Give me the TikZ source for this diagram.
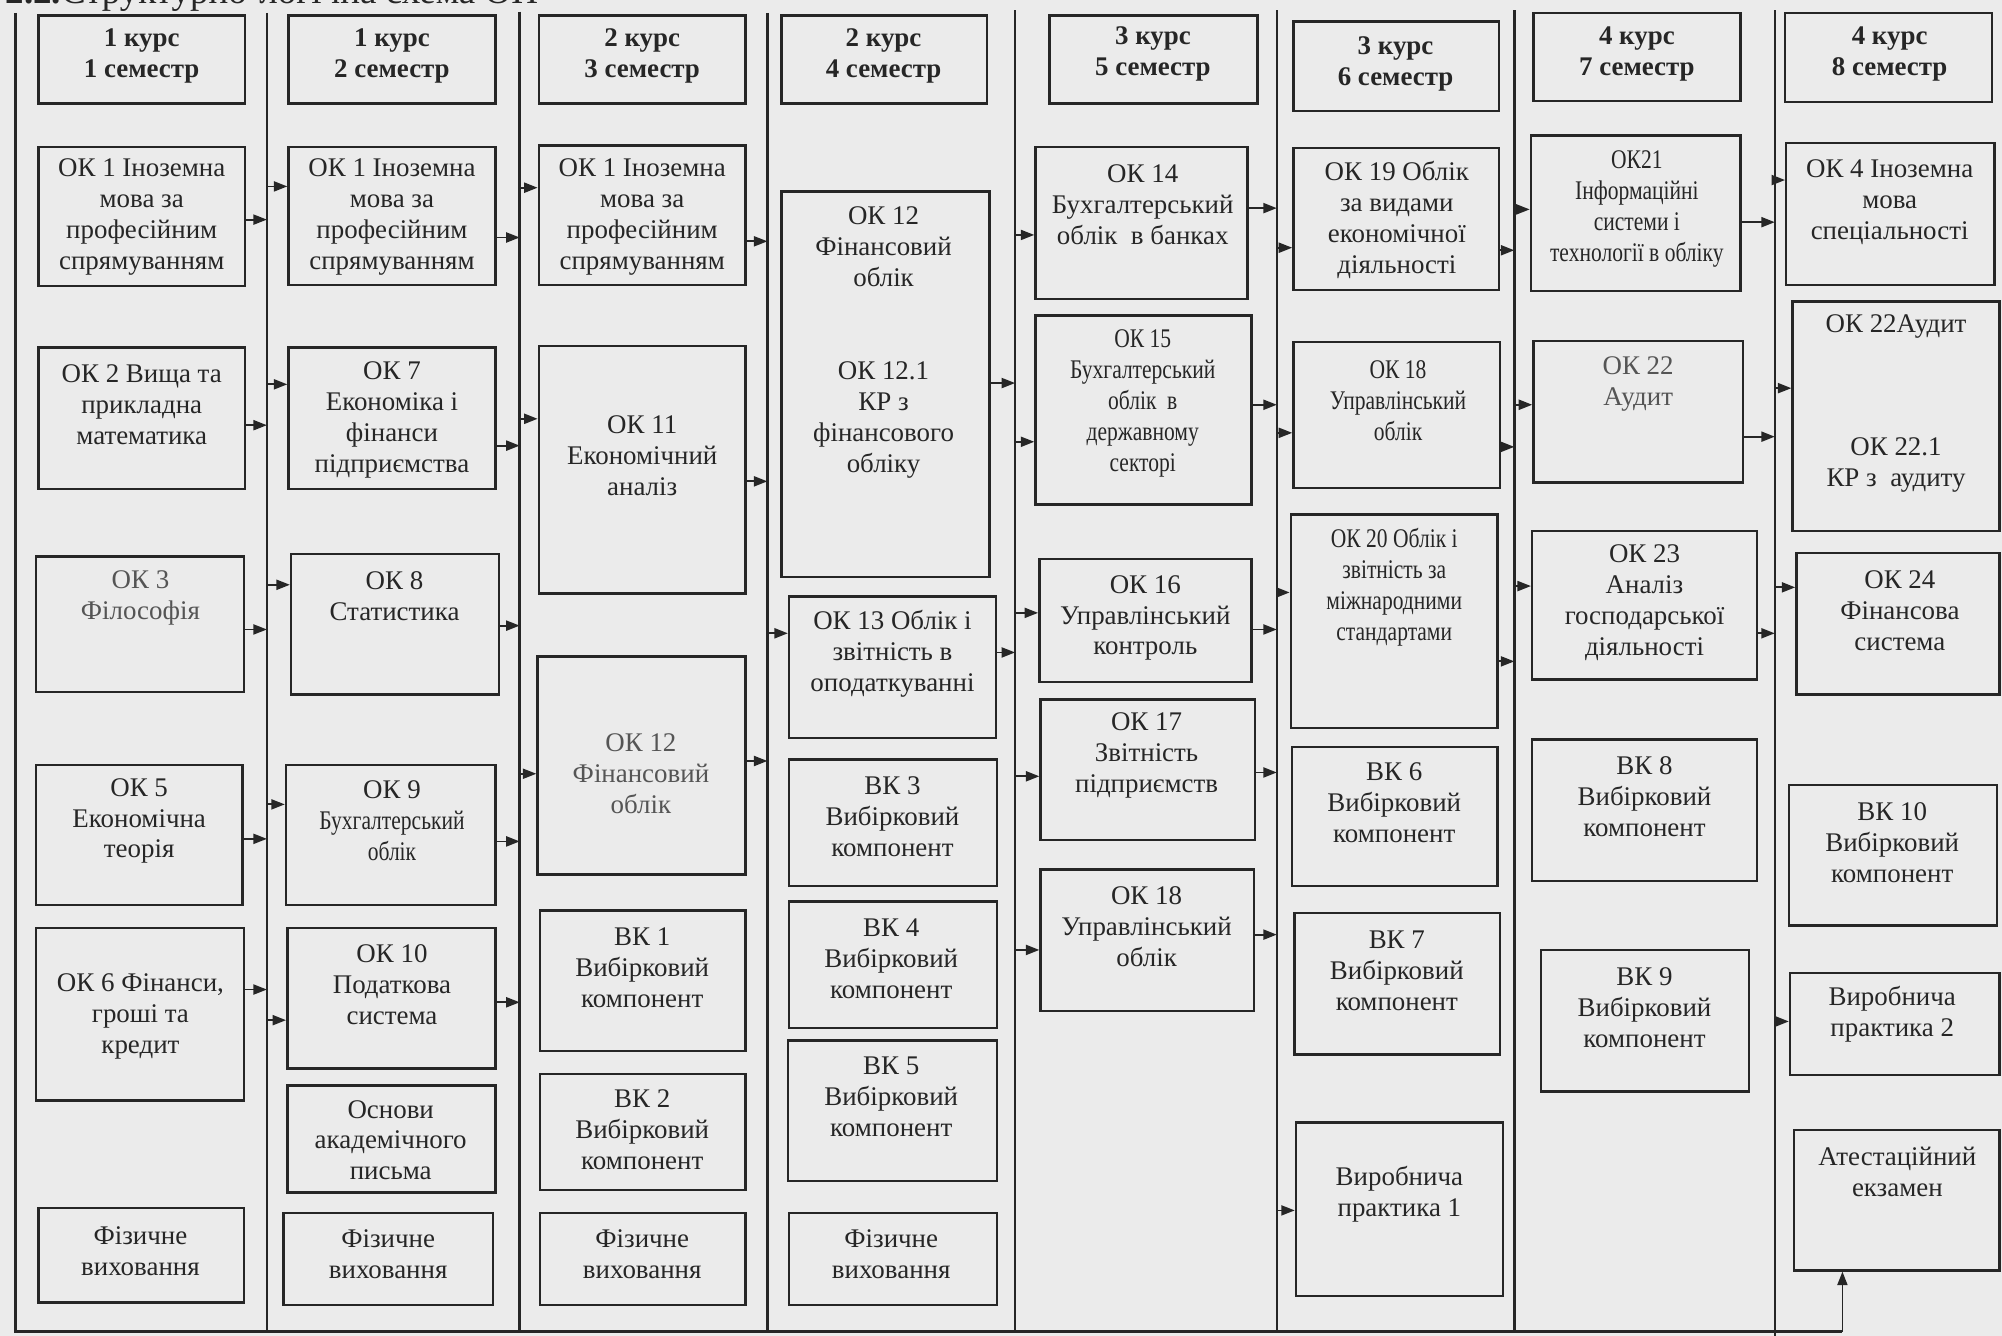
\documentclass[tikz,border=0pt]{standalone}
\usepackage{fontspec}
\setmainfont{Liberation Serif}
\newfontfamily\cnd[FakeStretch=0.8]{Liberation Serif}
\usetikzlibrary{arrows.meta, fit, positioning}
\definecolor{paper}{HTML}{EBEBEB}
\definecolor{ink}{HTML}{262626}
\definecolor{pale}{HTML}{555555}

\begin{document}
\begin{tikzpicture}[x=0.02cm, y=-0.02cm,
    box/.style={draw=ink, line width=1.1pt, inner sep=0pt},
    txt/.style={align=center, inner sep=0pt, text=ink, font=\fontsize{12}{13.8}\selectfont},
    hdr/.style={txt, font=\fontsize{12}{13.8}\selectfont\bfseries},
    divider/.style={draw=ink, line width=1.1pt},
    arr/.style={-{Triangle[length=6pt, width=4.5pt]}, draw=ink, line width=0.8pt}
  ]
  \useasboundingbox (0,0) rectangle (1568,1046);
  \fill[paper] (0,0) rectangle (1568,1046);

  % title (cut by the page edge)
  \node[anchor=base west, inner sep=0pt, text=ink, font=\fontsize{16.5}{18}\selectfont] (title) at (4,3) {\textbf{2.2.}Структурно-логічна схема ОП};

  % DIVIDERS
  \coordinate (s0) at (12,10);
  \coordinate (s1) at (209,10);
  \coordinate (s2) at (407,9);
  \coordinate (s3) at (601,10);
  \coordinate (s4) at (795,8);
  \coordinate (s5) at (1000,8);
  \coordinate (s6) at (1186,8);
  \coordinate (s7) at (1390,8);
  \coordinate (bl) at (12,1043);
  \coordinate (ex) at (1443,1043);
  \draw[divider] (s0) -- (bl) -- (ex);
  \draw[divider] (s1) -- (s1 |- bl);
  \draw[divider] (s2) -- (s2 |- bl);
  \draw[divider] (s3) -- (s3 |- bl);
  \draw[divider] (s4) -- (s4 |- bl);
  \draw[divider] (s5) -- (s5 |- bl);
  \draw[divider] (s6) -- (s6 |- bl);
  \draw[divider] (s7) -- (1390,1046);

  % 1 SEMESTER
  \node[box, fit={(30,12) (192,81)}] (hdr1) {};
  \node[hdr] (hdr1-t) at (111,44) {1 курс\\1 семестр};
  \node[box, fit={(30,115) (192,224)}] (ok1a) {};
  \node[txt] (ok1a-t) at (111,170) {ОК 1 Іноземна\\мова за\\професійним\\спрямуванням};
  \node[box, fit={(30,272) (192,383)}] (ok2) {};
  \node[txt] (ok2-t) at (111,317) {ОК 2 Вища та\\прикладна\\математика};
  \node[box, fit={(28,436) (191,542)}] (ok3) {};
  \node[txt, text=pale] (ok3-t) at (110,468) {ОК 3\\Філософія};
  \node[box, fit={(28,599) (190,709)}] (ok5) {};
  \node[txt] (ok5-t) at (109,643) {ОК 5\\Економічна\\теорія};
  \node[box, fit={(28,727) (191,862)}] (ok6) {};
  \node[txt] (ok6-t) at (110,796) {ОК 6 Фінанси,\\гроші та\\кредит};
  \node[box, fit={(30,946) (191,1020)}] (fiz1) {};
  \node[txt] (fiz1-t) at (110,980) {Фізичне\\виховання};

  % 2 SEMESTER
  \node[box, fit={(226,12) (388,81)}] (hdr2) {};
  \node[hdr] (hdr2-t) at (307,44) {1 курс\\2 семестр};
  \node[box, fit={(226,115) (388,223)}] (ok1b) {};
  \node[txt] (ok1b-t) at (307,170) {ОК 1 Іноземна\\мова за\\професійним\\спрямуванням};
  \node[box, fit={(226,272) (388,383)}] (ok7) {};
  \node[txt] (ok7-t) at (307,329) {ОК 7\\Економіка і\\фінанси\\підприємства};
  \node[box, fit={(228,434) (391,544)}] (ok8) {};
  \node[txt] (ok8-t) at (309,467) {ОК 8\\Статистика};
  \node[box, fit={(224,599) (388,709)}] (ok9) {};
  \node[txt] (ok9-t) at (307,643) {ОК 9\\{\cnd Бухгалтерський}\\{\cnd облік}};
  \node[box, fit={(225,727) (388,837)}] (ok10) {};
  \node[txt] (ok10-t) at (307,771) {ОК 10\\Податкова\\система};
  \node[box, fit={(225,850) (388,934)}] (osn) {};
  \node[txt] (osn-t) at (306,893) {Основи\\академічного\\письма};
  \node[box, fit={(222,950) (386,1022)}] (fiz2) {};
  \node[txt] (fiz2-t) at (304,982) {Фізичне\\виховання};

  % 3 SEMESTER
  \node[box, fit={(422,12) (584,81)}] (hdr3) {};
  \node[hdr] (hdr3-t) at (503,44) {2 курс\\3 семестр};
  \node[box, fit={(422,114) (584,223)}] (ok1c) {};
  \node[txt] (ok1c-t) at (503,170) {ОК 1 Іноземна\\мова за\\професійним\\спрямуванням};
  \node[box, fit={(422,271) (584,465)}] (ok11) {};
  \node[txt] (ok11-t) at (503,357) {ОК 11\\Економічний\\аналіз};
  \node[box, fit={(421,514) (584,685)}] (ok12c) {};
  \node[txt, text=pale] (ok12c-t) at (502,606) {ОК 12\\Фінансовий\\облік};
  \node[box, fit={(423,713) (584,823)}] (vk1) {};
  \node[txt] (vk1-t) at (503,758) {ВК 1\\Вибірковий\\компонент};
  \node[box, fit={(423,841) (584,932)}] (vk2) {};
  \node[txt] (vk2-t) at (503,885) {ВК 2\\Вибірковий\\компонент};
  \node[box, fit={(423,950) (584,1022)}] (fiz3) {};
  \node[txt] (fiz3-t) at (503,982) {Фізичне\\виховання};

  % 4 SEMESTER
  \node[box, fit={(612,12) (773,81)}] (hdr4) {};
  \node[hdr] (hdr4-t) at (692,44) {2 курс\\4 семестр};
  \node[box, fit={(612,150) (775,452)}] (ok12d) {};
  \node[txt] (ok12d-t) at (692,268) {ОК 12\\Фінансовий\\облік\\~\\~\\ОК 12.1\\КР з\\фінансового\\обліку};
  \node[box, fit={(618,467) (780,578)}] (ok13) {};
  \node[txt] (ok13-t) at (699,512) {ОК 13 Облік і\\звітність в\\оподаткуванні};
  \node[box, fit={(618,595) (781,694)}] (vk3) {};
  \node[txt] (vk3-t) at (699,640) {ВК 3\\Вибірковий\\компонент};
  \node[box, fit={(618,706) (781,805)}] (vk4) {};
  \node[txt] (vk4-t) at (698,751) {ВК 4\\Вибірковий\\компонент};
  \node[box, fit={(617,815) (781,925)}] (vk5) {};
  \node[txt] (vk5-t) at (698,859) {ВК 5\\Вибірковий\\компонент};
  \node[box, fit={(618,950) (781,1022)}] (fiz4) {};
  \node[txt] (fiz4-t) at (698,982) {Фізичне\\виховання};

  % 5 SEMESTER
  \node[box, fit={(822,12) (985,81)}] (hdr5) {};
  \node[hdr] (hdr5-t) at (903,42) {3 курс\\5 семестр};
  \node[box, fit={(811,115) (977,234)}] (ok14) {};
  \node[txt] (ok14-t) at (895,160) {ОК 14\\Бухгалтерський\\облік~~в банках};
  \node[box, fit={(811,247) (980,395)}] (ok15) {};
  \node[txt, font=\fontsize{12}{13.8}\cnd] (ok15-t) at (895,316) {ОК 15\\Бухгалтерський\\облік~~в\\державному\\секторі};
  \node[box, fit={(814,438) (980,534)}] (ok16) {};
  \node[txt] (ok16-t) at (897,484) {ОК 16\\Управлінський\\контроль};
  \node[box, fit={(815,548) (983,658)}] (ok17) {};
  \node[txt] (ok17-t) at (898,592) {ОК 17\\Звітність\\підприємств};
  \node[box, fit={(815,681) (982,792)}] (ok18e) {};
  \node[txt] (ok18e-t) at (898,726) {ОК 18\\Управлінський\\облік};

  % 6 SEMESTER
  \node[box, fit={(1013,17) (1174,87)}] (hdr6) {};
  \node[hdr] (hdr6-t) at (1093,50) {3 курс\\6 семестр};
  \node[box, fit={(1013,116) (1174,227)}] (ok19) {};
  \node[txt] (ok19-t) at (1094,172) {ОК 19 Облік\\за видами\\економічної\\діяльності};
  \node[box, fit={(1013,268) (1175,382)}] (ok18f) {};
  \node[txt, font=\fontsize{12}{13.8}\cnd] (ok18f-t) at (1095,314) {ОК 18\\Управлінський\\облік};
  \node[box, fit={(1011,403) (1173,570)}] (ok20) {};
  \node[txt, font=\fontsize{12}{13.8}\cnd] (ok20-t) at (1092,460) {ОК 20 Облік і\\звітність за\\міжнародними\\стандартами};
  \node[box, fit={(1012,585) (1173,694)}] (vk6) {};
  \node[txt] (vk6-t) at (1092,629) {ВК 6\\Вибірковий\\компонент};
  \node[box, fit={(1014,715) (1175,826)}] (vk7) {};
  \node[txt] (vk7-t) at (1094,760) {ВК 7\\Вибірковий\\компонент};
  \node[box, fit={(1015,879) (1177,1015)}] (pr1) {};
  \node[txt] (pr1-t) at (1096,935) {Виробнича\\практика 1};

  % 7 SEMESTER
  \node[box, fit={(1201,10) (1363,79)}] (hdr7) {};
  \node[hdr] (hdr7-t) at (1282,42) {4 курс\\7 семестр};
  \node[box, fit={(1199,106) (1363,228)}] (ok21) {};
  \node[txt, font=\fontsize{12}{13.8}\cnd] (ok21-t) at (1282,164) {ОК21\\Інформаційні\\системи і\\технології в обліку};
  \node[box, fit={(1201,267) (1365,378)}] (ok22g) {};
  \node[txt, text=pale] (ok22g-t) at (1283,301) {ОК 22\\Аудит};
  \node[box, fit={(1200,416) (1376,532)}] (ok23) {};
  \node[txt] (ok23-t) at (1288,472) {ОК 23\\Аналіз\\господарської\\діяльності};
  \node[box, fit={(1200,579) (1376,690)}] (vk8) {};
  \node[txt] (vk8-t) at (1288,624) {ВК 8\\Вибірковий\\компонент};
  \node[box, fit={(1207,744) (1370,855)}] (vk9) {};
  \node[txt] (vk9-t) at (1288,789) {ВК 9\\Вибірковий\\компонент};

  % 8 SEMESTER
  \node[box, fit={(1398,10) (1560,80)}] (hdr8) {};
  \node[hdr] (hdr8-t) at (1480,42) {4 курс\\8 семестр};
  \node[box, fit={(1399,112) (1562,223)}] (ok4) {};
  \node[txt] (ok4-t) at (1480,158) {ОК 4 Іноземна\\мова\\спеціальності};
  \node[box, fit={(1404,236) (1566,416)}] (ok22h) {};
  \node[txt] (ok22h-t) at (1485,316) {ОК 22Аудит\\~\\~\\~\\ОК 22.1\\КР з~~аудиту};
  \node[box, fit={(1407,433) (1566,544)}] (ok24) {};
  \node[txt] (ok24-t) at (1488,478) {ОК 24\\Фінансова\\система};
  \node[box, fit={(1401,615) (1564,725)}] (vk10) {};
  \node[txt] (vk10-t) at (1482,660) {ВК 10\\Вибірковий\\компонент};
  \node[box, fit={(1402,762) (1566,842)}] (pr2) {};
  \node[txt] (pr2-t) at (1482,794) {Виробнича\\практика 2};
  \node[box, fit={(1405,885) (1566,995)}] (att) {};
  \node[txt] (att-t) at (1486,918) {Атестаційний\\екзамен};

  % CONNECTORS: 1 -> 2
  \draw[arr] (ok1a.east |- 0,172) -- (s1 |- 0,172);
  \draw[arr] (ok2.east |- 0,333) -- (s1 |- 0,333);
  \draw[arr] (ok3.east |- 0,493) -- (s1 |- 0,493);
  \draw[arr] (ok5.east |- 0,657) -- (s1 |- 0,657);
  \draw[arr] (ok6.east |- 0,775) -- (s1 |- 0,775);
  \draw[arr] (s1 |- 0,146) -- (ok1b.west |- 0,146);
  \draw[arr] (s1 |- 0,301) -- (ok7.west |- 0,301);
  \draw[arr] (s1 |- 0,458) -- (ok8.west |- 0,458);
  \draw[arr] (s1 |- 0,630) -- (ok9.west |- 0,630);
  \draw[arr] (s1 |- 0,799) -- (ok10.west |- 0,799);

  % CONNECTORS: 2 -> 3
  \draw[arr] (ok1b.east |- 0,186) -- (s2 |- 0,186);
  \draw[arr] (ok7.east |- 0,349) -- (s2 |- 0,349);
  \draw[arr] (ok8.east |- 0,490) -- (s2 |- 0,490);
  \draw[arr] (ok9.east |- 0,659) -- (s2 |- 0,659);
  \draw[arr] (ok10.east |- 0,785) -- (s2 |- 0,785);
  \draw[arr] (s2 |- 0,147) -- (ok1c.west |- 0,147);
  \draw[arr] (s2 |- 0,328) -- (ok11.west |- 0,328);
  \draw[arr] (s2 |- 0,606) -- (ok12c.west |- 0,606);

  % CONNECTORS: 3 -> 4
  \draw[arr] (ok1c.east |- 0,189) -- (s3 |- 0,189);
  \draw[arr] (ok11.east |- 0,377) -- (s3 |- 0,377);
  \draw[arr] (ok12c.east |- 0,596) -- (s3 |- 0,596);
  \draw[arr] (s3 |- 0,496) -- (ok13.west |- 0,496);

  % CONNECTORS: 4 -> 5
  \draw[arr] (ok12d.east |- 0,300) -- (s4 |- 0,300);
  \draw[arr] (ok13.east |- 0,511) -- (s4 |- 0,511);
  \draw[arr] (s4 |- 0,184) -- (ok14.west |- 0,184);
  \draw[arr] (s4 |- 0,346) -- (ok15.west |- 0,346);
  \draw[arr] (s4 |- 0,480) -- (ok16.west |- 0,480);
  \draw[arr] (s4 |- 0,608) -- (ok17.west |- 0,608);
  \draw[arr] (s4 |- 0,744) -- (ok18e.west |- 0,744);

  % CONNECTORS: 5 -> 6
  \draw[arr] (ok14.east |- 0,163) -- (s5 |- 0,163);
  \draw[arr] (ok15.east |- 0,317) -- (s5 |- 0,317);
  \draw[arr] (ok16.east |- 0,493) -- (s5 |- 0,493);
  \draw[arr] (ok17.east |- 0,605) -- (s5 |- 0,605);
  \draw[arr] (ok18e.east |- 0,732) -- (s5 |- 0,732);
  \draw[arr] (s5 |- 0,194) -- (ok19.west |- 0,194);
  \draw[arr] (s5 |- 0,339) -- (ok18f.west |- 0,339);
  \draw[arr] (s5 |- 0,464) -- (ok20.west |- 0,464);
  \draw[arr] (s5 |- 0,948) -- (pr1.west |- 0,948);

  % CONNECTORS: 6 -> 7
  \draw[arr] (ok19.east |- 0,196) -- (s6 |- 0,196);
  \draw[arr] (ok18f.east |- 0,350) -- (s6 |- 0,350);
  \draw[arr] (ok20.east |- 0,518) -- (s6 |- 0,518);
  \draw[arr] (s6 |- 0,164) -- (ok21.west |- 0,164);
  \draw[arr] (s6 |- 0,317) -- (ok22g.west |- 0,317);
  \draw[arr] (s6 |- 0,459) -- (ok23.west |- 0,459);

  % CONNECTORS: 7 -> 8
  \draw[arr] (ok21.east |- 0,174) -- (s7 |- 0,174);
  \draw[arr] (ok22g.east |- 0,342) -- (s7 |- 0,342);
  \draw[arr] (ok23.east |- 0,496) -- (s7 |- 0,496);
  \draw[arr] (s7 |- 0,141) -- (ok4.west |- 0,141);
  \draw[arr] (s7 |- 0,304) -- (ok22h.west |- 0,304);
  \draw[arr] (s7 |- 0,460) -- (ok24.west |- 0,460);
  \draw[arr] (s7 |- 0,800) -- (pr2.west |- 0,800);

  % FINAL
  \draw[arr] (ex) -- (ex |- att.south);
\end{tikzpicture}
\end{document}
